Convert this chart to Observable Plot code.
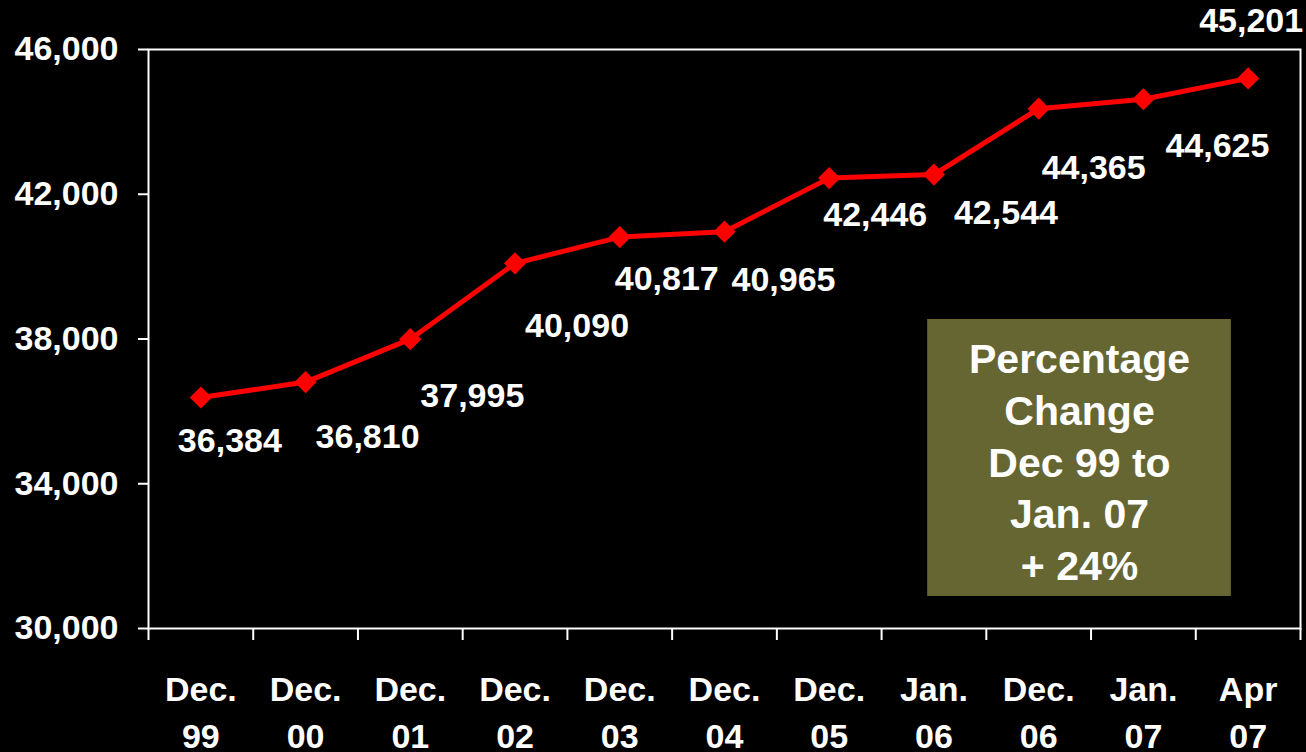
<!DOCTYPE html>
<html>
<head>
<meta charset="utf-8">
<script src="https://cdn.jsdelivr.net/npm/d3@7"></script>
<script src="https://cdn.jsdelivr.net/npm/@observablehq/plot@0.6"></script>
<style>
  html, body { margin: 0; padding: 0; background: #000; }
  #chart svg { display: block; }
</style>
</head>
<body>
<div id="chart"></div>
<script>
const categories = ["Dec.\n99", "Dec.\n00", "Dec.\n01", "Dec.\n02", "Dec.\n03", "Dec.\n04", "Dec.\n05", "Jan.\n06", "Dec.\n06", "Jan.\n07", "Apr\n07"];
const values = [36384, 36810, 37995, 40090, 40817, 40965, 42446, 42544, 44365, 44625, 45201];
const yTicks = [30000, 34000, 38000, 42000, 46000];
const boxText = "Percentage\nChange\nDec 99 to\nJan. 07\n+ 24%";

// label offsets in pixels (placement of the value labels, as in the reference)
const labelOffsets = [[29, 44], [62, 55], [62, 57], [62, 63], [47, 42], [59, 48], [46, 37], [72, 39], [55, 59], [74, 47], [3, -57]];

const data = values.map((v, i) => ({i, v}));
const fmt = d3.format(",");
const font = "'Liberation Sans', Arial, sans-serif";

const plot = Plot.plot({
  width: 1306,
  height: 752,
  marginLeft: 148,
  marginRight: 6,
  marginTop: 49,
  marginBottom: 124,
  style: {background: "#000", color: "#fff", fontFamily: font, fontWeight: "bold"},
  x: {type: "linear", domain: [-0.5, categories.length - 0.5], axis: null},
  y: {domain: [30000, 46000], axis: null},
  marks: [
    Plot.rect([{x1: 6.94, x2: 9.84, y1: 30885, y2: 38540}], {x1: "x1", x2: "x2", y1: "y1", y2: "y2", fill: "#666633"}),
    Plot.text([boxText], {x: 8.39, y: 34650, text: d => d, fill: "#fff", fontSize: 41, lineHeight: 1.26, fontWeight: "bold"}),
    Plot.frame({stroke: "#fff", strokeWidth: 2}),
    Plot.axisY({ticks: yTicks, tickFormat: fmt, tickSize: 10, tickPadding: 20, fontSize: 34, fontWeight: "bold", strokeWidth: 2}),
    Plot.axisX({ticks: d3.range(-0.5, categories.length, 1), tickSize: 12, tickFormat: () => "", strokeWidth: 2}),
    Plot.axisX({ticks: d3.range(categories.length), tickSize: 0, tickPadding: 39, tickFormat: i => categories[i], fontSize: 34, fontWeight: "bold", lineHeight: 1.38}),
    Plot.line(data, {x: "i", y: "v", stroke: "#ff0000", strokeWidth: 5}),
    Plot.dot(data, {x: "i", y: "v", symbol: "diamond2", r: 10, fill: "#ff0000", stroke: "none"}),
    ...data.map((d, k) => Plot.text([d], {x: "i", y: "v", text: e => fmt(e.v), dx: labelOffsets[k][0], dy: labelOffsets[k][1], fill: "#fff", fontSize: 34, fontWeight: "bold"}))
  ]
});
document.getElementById("chart").appendChild(plot);
</script>
</body>
</html>
